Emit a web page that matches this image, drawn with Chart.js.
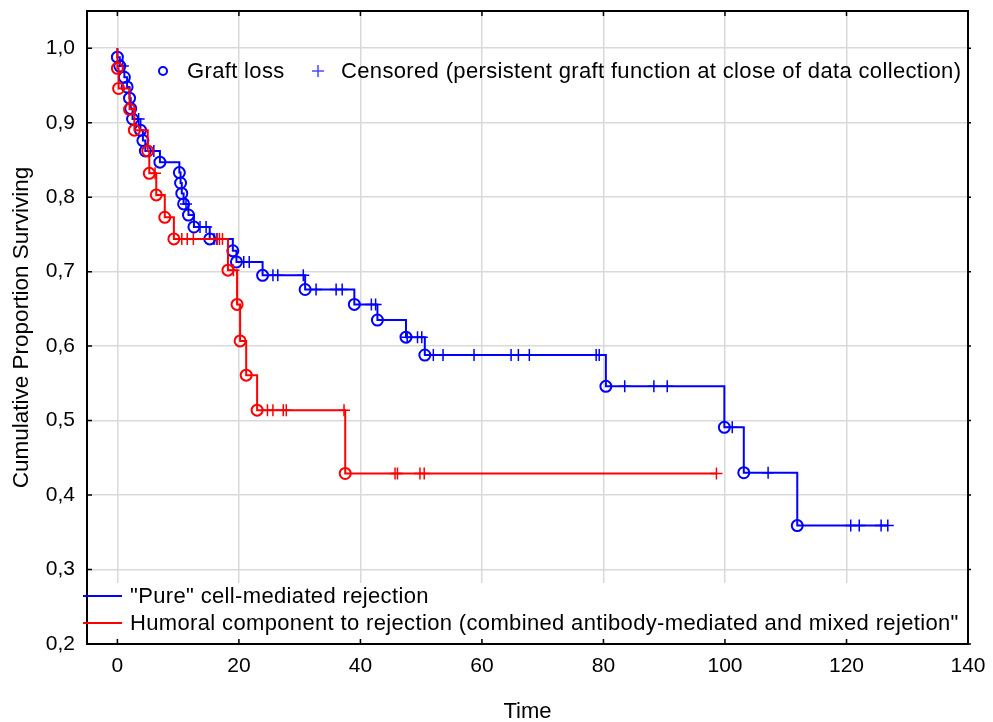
<!DOCTYPE html>
<html>
<head>
<meta charset="utf-8">
<script src="https://cdn.jsdelivr.net/npm/chart.js@4.4.1/dist/chart.umd.min.js"></script>
<style>
html,body{margin:0;padding:0;background:#fff;}
#wrap{width:993px;height:722px;position:relative;}
</style>
</head>
<body>
<div id="wrap"><canvas id="c"></canvas></div>
<script>
// ---- data ----
const xTicks = [0, 20, 40, 60, 80, 100, 120, 140];
const yTicks = [0.2, 0.3, 0.4, 0.5, 0.6, 0.7, 0.8, 0.9, 1.0];

const pureEventTime = [0, 0.4, 1.15, 1.6, 2.0, 2.2, 2.5, 3.8, 4.2, 4.6, 7.0, 10.2, 10.4, 10.6, 10.9, 11.7, 12.6, 15.2, 19.0, 19.6, 23.9, 30.9, 39.0, 42.8, 47.5, 50.6, 80.4, 99.9, 103.1, 111.9];
const pureEventSurv = [0.988, 0.976, 0.961, 0.948, 0.933, 0.919, 0.905, 0.890, 0.876, 0.862, 0.847, 0.833, 0.819, 0.805, 0.791, 0.776, 0.760, 0.744, 0.728, 0.713, 0.695, 0.676, 0.656, 0.635, 0.612, 0.588, 0.546, 0.491, 0.430, 0.359];
const pureCensorTime = [0.9, 3.5, 6.0, 11.3, 13.6, 14.6, 15.9, 16.4, 20.8, 21.7, 25.6, 26.4, 30.6, 32.7, 36.0, 37.0, 41.8, 42.5, 47.7, 49.4, 50.1, 52.0, 53.6, 58.7, 64.8, 66.0, 67.8, 78.8, 79.3, 83.5, 88.3, 90.5, 101.2, 107.1, 120.7, 122.1, 125.7, 126.8];

const humoralEventTime = [0, 0.2, 2.0, 2.8, 5.0, 5.25, 6.4, 7.8, 9.3, 18.2, 19.7, 20.2, 21.2, 23.0, 37.5];
const humoralEventSurv = [0.973, 0.946, 0.918, 0.890, 0.862, 0.832, 0.803, 0.773, 0.744, 0.702, 0.656, 0.607, 0.561, 0.514, 0.429];
const humoralCensorTime = [6.2, 10.6, 11.5, 12.5, 16.3, 16.8, 17.3, 19.1, 24.7, 25.6, 27.3, 27.8, 37.3, 45.7, 46.1, 49.8, 50.5, 98.6];

const seriesNames = ['"Pure" cell-mediated rejection', 'Humoral component to rejection (combined antibody-mediated and mixed rejetion"'];
const markerNames = ['Graft loss', 'Censored (persistent graft function at close of data collection)'];
const xTitle = 'Time';
const yTitle = 'Cumulative Proportion Surviving';

// ---- helpers built from the arrays ----
function survAt(evT, evS, t) {
  let s = 1.0;
  for (let i = 0; i < evT.length; i++) if (evT[i] <= t) s = evS[i];
  return s;
}
function stepPoints(evT, evS, cT) {
  const items = evT.map((t, i) => ({x: t, y: evS[i]}))
    .concat(cT.map(t => ({x: t, y: survAt(evT, evS, t)})));
  items.sort((a, b) => a.x - b.x || b.y - a.y);
  return [{x: 0, y: 1.0}].concat(items);
}
const BLUE = '#0000ff', RED = '#ff0000';
const FONT = '"Liberation Sans", Arial, Helvetica, sans-serif';

const pureLine = stepPoints(pureEventTime, pureEventSurv, pureCensorTime);
const humLine = stepPoints(humoralEventTime, humoralEventSurv, humoralCensorTime);
const pureEv = pureEventTime.map((t, i) => ({x: t, y: pureEventSurv[i]}));
const humEv = humoralEventTime.map((t, i) => ({x: t, y: humoralEventSurv[i]}));
const pureCen = pureCensorTime.map(t => ({x: t, y: survAt(pureEventTime, pureEventSurv, t)}));
const humCen = humoralCensorTime.map(t => ({x: t, y: survAt(humoralEventTime, humoralEventSurv, t)}));

const decor = {
  id: 'decor',
  afterDatasetsDraw(chart) {
    const {ctx, chartArea: a, scales} = chart;
    ctx.save();
    // bottom legend background
    ctx.fillStyle = '#ffffff';
    ctx.fillRect(a.left - 4, 583, a.right - a.left - 2, 56);
    // frame
    ctx.strokeStyle = '#000';
    ctx.lineWidth = 2;
    ctx.strokeRect(a.left, a.top, a.right - a.left, a.bottom - a.top);
    // inward ticks
    ctx.lineWidth = 1.5;
    ctx.beginPath();
    xTicks.forEach(v => {
      const px = scales.x.getPixelForValue(v);
      ctx.moveTo(px, a.bottom); ctx.lineTo(px, a.bottom - 5);
      ctx.moveTo(px, a.top); ctx.lineTo(px, a.top + 5);
    });
    yTicks.forEach(v => {
      const py = scales.y.getPixelForValue(v);
      ctx.moveTo(a.left, py); ctx.lineTo(a.left + 5, py);
      ctx.moveTo(a.right, py); ctx.lineTo(a.right + 3, py);
    });
    ctx.stroke();
    // top legend
    ctx.font = '22px ' + FONT;
    ctx.letterSpacing = '0.35px';
    ctx.fillStyle = '#000';
    ctx.textBaseline = 'middle';
    ctx.textAlign = 'left';
    ctx.strokeStyle = BLUE; ctx.lineWidth = 2;
    ctx.beginPath(); ctx.arc(163, 71, 4, 0, Math.PI * 2); ctx.stroke();
    ctx.fillText(markerNames[0], 187, 72);
    ctx.strokeStyle = '#4a4aff'; ctx.lineWidth = 1.5;
    ctx.beginPath(); ctx.moveTo(312, 71); ctx.lineTo(324, 71); ctx.moveTo(318, 65); ctx.lineTo(318, 77); ctx.stroke();
    ctx.fillText(markerNames[1], 341, 72);
    // bottom legend
    ctx.lineWidth = 2;
    ctx.strokeStyle = BLUE;
    ctx.beginPath(); ctx.moveTo(a.left - 4, 596); ctx.lineTo(a.left + 35, 596); ctx.stroke();
    ctx.strokeStyle = RED;
    ctx.beginPath(); ctx.moveTo(a.left - 4, 623); ctx.lineTo(a.left + 35, 623); ctx.stroke();
    ctx.fillText(seriesNames[0], a.left + 43, 597);
    ctx.fillText(seriesNames[1], a.left + 43, 624);
    ctx.restore();
  }
};

const yTickCfg = {
  min: 0.2, max: 1.05,
  afterBuildTicks: s => { s.ticks = yTicks.map(v => ({value: v})); }
};

new Chart(document.getElementById('c'), {
  type: 'scatter',
  data: {
    datasets: [
      {label: 'hum-ev', data: humEv, order: 1, showLine: false, pointStyle: 'circle', pointRadius: 5.5, pointBorderWidth: 2, pointBorderColor: RED, pointBackgroundColor: 'rgba(0,0,0,0)'},
      {label: 'hum-cen', data: humCen, order: 2, showLine: false, pointStyle: 'cross', pointRadius: 6, pointBorderWidth: 1.5, pointBorderColor: RED},
      {label: 'hum-line', data: humLine, order: 3, showLine: true, stepped: 'before', pointRadius: 0, borderColor: RED, borderWidth: 2, fill: false},
      {label: 'pure-ev', data: pureEv, order: 4, showLine: false, pointStyle: 'circle', pointRadius: 5.5, pointBorderWidth: 2, pointBorderColor: BLUE, pointBackgroundColor: 'rgba(0,0,0,0)'},
      {label: 'pure-cen', data: pureCen, order: 5, showLine: false, pointStyle: 'cross', pointRadius: 6, pointBorderWidth: 1.5, pointBorderColor: BLUE},
      {label: 'pure-line', data: pureLine, order: 6, showLine: true, stepped: 'before', pointRadius: 0, borderColor: BLUE, borderWidth: 2, fill: false}
    ]
  },
  options: {
    responsive: true,
    maintainAspectRatio: false,
    animation: false,
    events: [],
    devicePixelRatio: 1,
    layout: {padding: {top: 11, left: 0, right: 0, bottom: 0}},
    plugins: {legend: {display: false}, tooltip: {enabled: false}},
    scales: {
      x: {
        type: 'linear', min: -5, max: 140,
        afterBuildTicks: s => { s.ticks = xTicks.map(v => ({value: v})); },
        afterFit: s => { s.height = 78; s.paddingLeft = 0; s.paddingRight = 0; },
        grid: {color: '#d9d9d9', lineWidth: 1.5, drawTicks: false},
        border: {display: false},
        ticks: {color: '#000', font: {family: FONT, size: 21}, padding: 10, maxRotation: 0},
        title: {display: true, text: xTitle, color: '#000', font: {family: FONT, size: 22}, padding: {top: 0, bottom: -3}}
      },
      y: Object.assign({}, yTickCfg, {
        type: 'linear', position: 'left',
        afterFit: s => { s.width = 87; s.paddingTop = 0; s.paddingBottom = 0; },
        grid: {color: '#d9d9d9', lineWidth: 1.5, drawTicks: false},
        border: {display: false},
        ticks: {color: '#000', font: {family: FONT, size: 21}, padding: 12,
          callback: v => v.toFixed(1).replace('.', ',')},
        title: {display: true, text: yTitle, color: '#000', font: {family: FONT, size: 22.5}, padding: {top: 8, bottom: 0}}
      }),
      y2: Object.assign({}, yTickCfg, {
        type: 'linear', position: 'right',
        afterFit: s => { s.width = 25; s.paddingTop = 0; s.paddingBottom = 0; },
        grid: {drawOnChartArea: false, drawTicks: false},
        border: {display: false},
        ticks: {display: false}
      })
    }
  },
  plugins: [decor]
});
</script>
</body>
</html>
